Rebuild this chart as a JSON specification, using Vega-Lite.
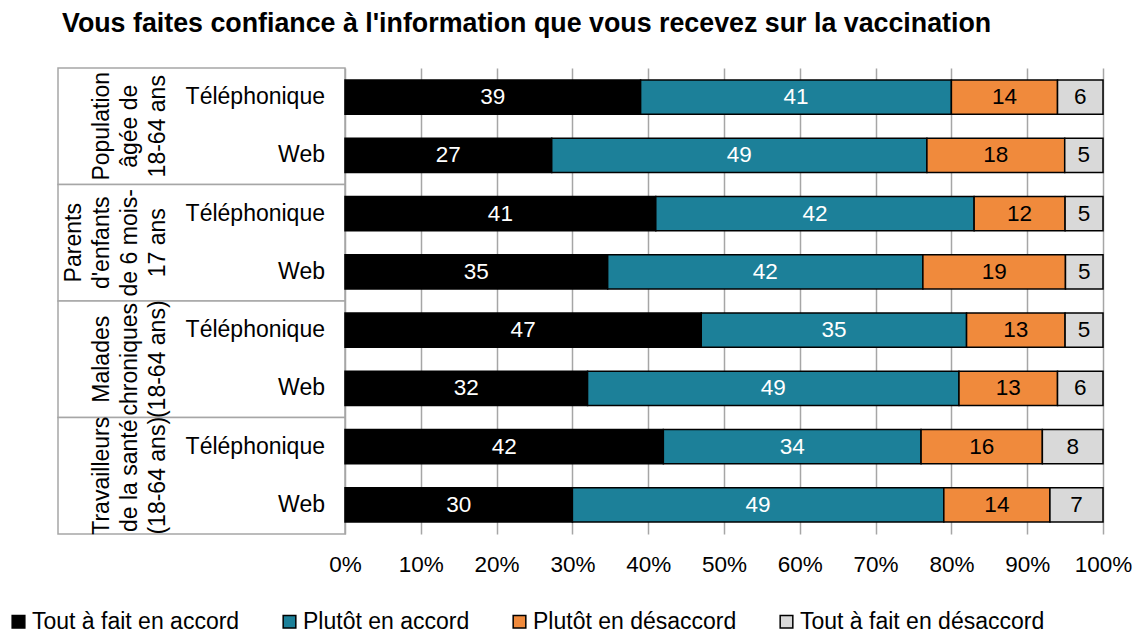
{
  "$schema": "https://vega.github.io/schema/vega-lite/v6.json",
  "padding": {"left": 7, "top": 11, "right": 4, "bottom": 0},
  "spacing": 0,
  "bounds": "flush",
  "config": {
    "font": "Liberation Sans",
    "view": {"stroke": null}
  },
  "title": {
    "text": "Vous faites confiance à l'information que vous recevez sur la vaccination",
    "anchor": "start",
    "fontSize": 26.8,
    "fontWeight": "bold",
    "color": "#000000",
    "offset": 29,
    "dx": 55
  },
  "datasets": {
    "groupes": [
      {"groupe": "Population âgée de 18-64 ans", "etiquette": "Population|âgée de|18-64 ans"},
      {"groupe": "Parents d'enfants de 6 mois-17 ans", "etiquette": "Parents|d'enfants|de 6 mois-|17 ans"},
      {"groupe": "Malades chroniques (18-64 ans)", "etiquette": "Malades|chroniques|(18-64 ans)"},
      {"groupe": "Travailleurs de la santé (18-64 ans)", "etiquette": "Travailleurs|de la santé|(18-64 ans)"}
    ],
    "lignes": [
      {"ligne": "Population – Téléphonique", "mode": "Téléphonique"},
      {"ligne": "Population – Web", "mode": "Web"},
      {"ligne": "Parents – Téléphonique", "mode": "Téléphonique"},
      {"ligne": "Parents – Web", "mode": "Web"},
      {"ligne": "Malades – Téléphonique", "mode": "Téléphonique"},
      {"ligne": "Malades – Web", "mode": "Web"},
      {"ligne": "Travailleurs – Téléphonique", "mode": "Téléphonique"},
      {"ligne": "Travailleurs – Web", "mode": "Web"}
    ],
    "reponses": [
      {"ligne": "Population – Téléphonique", "cat": "Tout à fait en accord", "rang": 1, "v": 39},
      {"ligne": "Population – Téléphonique", "cat": "Plutôt en accord", "rang": 2, "v": 41},
      {"ligne": "Population – Téléphonique", "cat": "Plutôt en désaccord", "rang": 3, "v": 14},
      {"ligne": "Population – Téléphonique", "cat": "Tout à fait en désaccord", "rang": 4, "v": 6},
      {"ligne": "Population – Web", "cat": "Tout à fait en accord", "rang": 1, "v": 27},
      {"ligne": "Population – Web", "cat": "Plutôt en accord", "rang": 2, "v": 49},
      {"ligne": "Population – Web", "cat": "Plutôt en désaccord", "rang": 3, "v": 18},
      {"ligne": "Population – Web", "cat": "Tout à fait en désaccord", "rang": 4, "v": 5},
      {"ligne": "Parents – Téléphonique", "cat": "Tout à fait en accord", "rang": 1, "v": 41},
      {"ligne": "Parents – Téléphonique", "cat": "Plutôt en accord", "rang": 2, "v": 42},
      {"ligne": "Parents – Téléphonique", "cat": "Plutôt en désaccord", "rang": 3, "v": 12},
      {"ligne": "Parents – Téléphonique", "cat": "Tout à fait en désaccord", "rang": 4, "v": 5},
      {"ligne": "Parents – Web", "cat": "Tout à fait en accord", "rang": 1, "v": 35},
      {"ligne": "Parents – Web", "cat": "Plutôt en accord", "rang": 2, "v": 42},
      {"ligne": "Parents – Web", "cat": "Plutôt en désaccord", "rang": 3, "v": 19},
      {"ligne": "Parents – Web", "cat": "Tout à fait en désaccord", "rang": 4, "v": 5},
      {"ligne": "Malades – Téléphonique", "cat": "Tout à fait en accord", "rang": 1, "v": 47},
      {"ligne": "Malades – Téléphonique", "cat": "Plutôt en accord", "rang": 2, "v": 35},
      {"ligne": "Malades – Téléphonique", "cat": "Plutôt en désaccord", "rang": 3, "v": 13},
      {"ligne": "Malades – Téléphonique", "cat": "Tout à fait en désaccord", "rang": 4, "v": 5},
      {"ligne": "Malades – Web", "cat": "Tout à fait en accord", "rang": 1, "v": 32},
      {"ligne": "Malades – Web", "cat": "Plutôt en accord", "rang": 2, "v": 49},
      {"ligne": "Malades – Web", "cat": "Plutôt en désaccord", "rang": 3, "v": 13},
      {"ligne": "Malades – Web", "cat": "Tout à fait en désaccord", "rang": 4, "v": 6},
      {"ligne": "Travailleurs – Téléphonique", "cat": "Tout à fait en accord", "rang": 1, "v": 42},
      {"ligne": "Travailleurs – Téléphonique", "cat": "Plutôt en accord", "rang": 2, "v": 34},
      {"ligne": "Travailleurs – Téléphonique", "cat": "Plutôt en désaccord", "rang": 3, "v": 16},
      {"ligne": "Travailleurs – Téléphonique", "cat": "Tout à fait en désaccord", "rang": 4, "v": 8},
      {"ligne": "Travailleurs – Web", "cat": "Tout à fait en accord", "rang": 1, "v": 30},
      {"ligne": "Travailleurs – Web", "cat": "Plutôt en accord", "rang": 2, "v": 49},
      {"ligne": "Travailleurs – Web", "cat": "Plutôt en désaccord", "rang": 3, "v": 14},
      {"ligne": "Travailleurs – Web", "cat": "Tout à fait en désaccord", "rang": 4, "v": 7}
    ]
  },
  "hconcat": [
    {
      "width": 287,
      "height": 466,
      "layer": [
        {
          "data": {"name": "groupes"},
          "mark": {"type": "rect", "fill": "white", "stroke": "#a6a6a6", "strokeWidth": 1.5},
          "encoding": {
            "y": {
              "field": "groupe", "type": "nominal",
              "scale": {
                "domain": ["Population âgée de 18-64 ans", "Parents d'enfants de 6 mois-17 ans", "Malades chroniques (18-64 ans)", "Travailleurs de la santé (18-64 ans)"],
                "paddingInner": 0, "paddingOuter": 0
              },
              "axis": null
            }
          }
        },
        {
          "data": {"name": "groupes"},
          "transform": [{"filter": "datum.groupe !== \"Parents d'enfants de 6 mois-17 ans\""}],
          "mark": {"type": "text", "angle": 270, "align": "center", "baseline": "bottom", "lineBreak": "|", "lineHeight": 28, "fontSize": 23, "color": "#000000", "dy": -88},
          "encoding": {
            "y": {
              "field": "groupe", "type": "nominal",
              "scale": {
                "domain": ["Population âgée de 18-64 ans", "Parents d'enfants de 6 mois-17 ans", "Malades chroniques (18-64 ans)", "Travailleurs de la santé (18-64 ans)"],
                "paddingInner": 0, "paddingOuter": 0
              },
              "axis": null
            },
            "text": {"field": "etiquette", "type": "nominal"}
          }
        },
        {
          "data": {"name": "groupes"},
          "transform": [{"filter": "datum.groupe === \"Parents d'enfants de 6 mois-17 ans\""}],
          "mark": {"type": "text", "angle": 270, "align": "center", "baseline": "bottom", "lineBreak": "|", "lineHeight": 28, "fontSize": 23, "color": "#000000", "dy": -116},
          "encoding": {
            "y": {
              "field": "groupe", "type": "nominal",
              "scale": {
                "domain": ["Population âgée de 18-64 ans", "Parents d'enfants de 6 mois-17 ans", "Malades chroniques (18-64 ans)", "Travailleurs de la santé (18-64 ans)"],
                "paddingInner": 0, "paddingOuter": 0
              },
              "axis": null
            },
            "text": {"field": "etiquette", "type": "nominal"}
          }
        },
        {
          "data": {"name": "lignes"},
          "mark": {"type": "text", "align": "right", "baseline": "middle", "fontSize": 23, "color": "#000000", "dx": 123.5},
          "encoding": {
            "y": {
              "field": "ligne", "type": "nominal",
              "scale": {
                "domain": ["Population – Téléphonique", "Population – Web", "Parents – Téléphonique", "Parents – Web", "Malades – Téléphonique", "Malades – Web", "Travailleurs – Téléphonique", "Travailleurs – Web"],
                "paddingInner": 0.416, "paddingOuter": 0.208
              },
              "axis": null
            },
            "text": {"field": "mode", "type": "nominal"}
          }
        }
      ],
      "resolve": {"scale": {"y": "independent"}}
    },
    {
      "width": 758,
      "height": 466,
      "data": {"name": "reponses"},
      "encoding": {
        "y": {
          "field": "ligne", "type": "nominal",
          "scale": {
            "domain": ["Population – Téléphonique", "Population – Web", "Parents – Téléphonique", "Parents – Web", "Malades – Téléphonique", "Malades – Web", "Travailleurs – Téléphonique", "Travailleurs – Web"],
            "paddingInner": 0.416, "paddingOuter": 0.208
          },
          "axis": null
        }
      },
      "layer": [
        {
          "mark": {"type": "bar", "stroke": "#000000", "strokeWidth": 1.5},
          "encoding": {
            "x": {
              "field": "v", "type": "quantitative", "stack": "normalize",
              "scale": {"domain": [0, 1]},
              "axis": {
                "values": [0, 0.1, 0.2, 0.3, 0.4, 0.5, 0.6, 0.7, 0.8, 0.9, 1],
                "format": ".0%",
                "title": null,
                "grid": true,
                "gridColor": "#a6a6a6",
                "gridWidth": 1.5,
                "domain": false,
                "ticks": false,
                "labelFontSize": 22.5,
                "labelColor": "#000000",
                "labelPadding": 19,
                "labelFlush": false
              }
            },
            "color": {
              "field": "cat", "type": "nominal",
              "scale": {
                "domain": ["Tout à fait en accord", "Plutôt en accord", "Plutôt en désaccord", "Tout à fait en désaccord"],
                "range": ["#000000", "#1c8099", "#f08a3c", "#d9d9d9"]
              },
              "legend": {
                "title": null,
                "orient": "none",
                "legendX": -51,
                "legendY": 542,
                "direction": "horizontal",
                "columns": 4,
                "columnPadding": 38,
                "symbolType": "square",
                "symbolSize": 160,
                "symbolStrokeColor": "#000000",
                "symbolStrokeWidth": 1.5,
                "labelFontSize": 23,
                "labelColor": "#000000",
                "labelOffset": 2,
                "labelLimit": 400
              }
            },
            "order": {"field": "rang", "type": "quantitative"}
          }
        },
        {
          "mark": {"type": "text", "fontSize": 22.5, "baseline": "middle", "align": "center"},
          "encoding": {
            "x": {"field": "v", "type": "quantitative", "stack": "normalize", "bandPosition": 0.5},
            "detail": {"field": "cat", "type": "nominal"},
            "order": {"field": "rang", "type": "quantitative"},
            "text": {"field": "v", "type": "quantitative"},
            "color": {"condition": {"test": "datum.rang <= 2", "value": "#ffffff"}, "value": "#000000"}
          }
        }
      ]
    }
  ]
}
